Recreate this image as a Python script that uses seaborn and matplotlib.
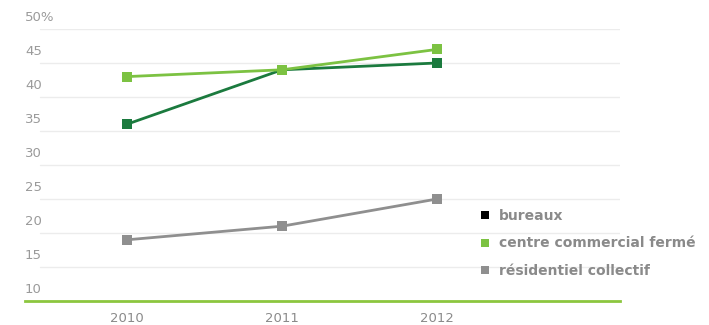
import numpy as np
import pandas as pd
import matplotlib.pyplot as plt
import matplotlib.transforms as mtransforms
from matplotlib.lines import Line2D
import seaborn as sns

years = [2010, 2011, 2012]
bureaux = [36, 44, 45]
centre_commercial = [43, 44, 47]
residentiel = [19, 21, 25]
series_names = ["bureaux", "centre commercial fermé", "résidentiel collectif"]
y_ticks = [10, 15, 20, 25, 30, 35, 40, 45, 50]
y_tick_labels = ["10", "15", "20", "25", "30", "35", "40", "45", "50%"]

line_colors = ["#1b7a3e", "#7cc242", "#8f8f8f"]
legend_colors = ["#000000", "#7cc242", "#8f8f8f"]

df = pd.DataFrame({
    "year": years * 3,
    "value": bureaux + centre_commercial + residentiel,
    "series": [s for s in series_names for _ in years],
})

sns.set_style("white")
plt.rcParams["font.family"] = ["DejaVu Sans"]

fig = plt.figure(figsize=(7.09, 3.25), dpi=100)
ax = fig.add_axes([25 / 709, 24 / 325, (620 - 25) / 709, (301 - 29) / 325])

sns.lineplot(
    data=df, x="year", y="value", hue="series", style="series",
    hue_order=series_names, palette=line_colors,
    markers=["s", "s", "s"], dashes=False, markersize=6.5,
    markeredgewidth=0, linewidth=2.0, legend=False, ax=ax,
)

ax.set_xlim(2010 - 102 / 155, 2012 + 183 / 155)
ax.set_ylim(10, 50)
ax.set_xticks(years)
ax.set_xticklabels([str(y) for y in years], color="#8a8a8a", fontsize=9.5)
ax.tick_params(axis="x", length=0, pad=8)
ax.set_yticks(y_ticks)
ax.set_yticklabels([])
ax.tick_params(axis="y", length=0)
ax.set_xlabel("")
ax.set_ylabel("")

for v in y_ticks[1:]:
    ax.axhline(v, xmin=15 / 595, xmax=1, color="#ececec", linewidth=1, zorder=0)

offset = mtransforms.ScaledTranslation(0, 5 / 100, fig.dpi_scale_trans)
trans = mtransforms.blended_transform_factory(ax.transAxes, ax.transData) + offset
for v, lab in zip(y_ticks, y_tick_labels):
    ax.text(0, v, lab, transform=trans, ha="left", va="bottom",
            color="#9a9a9a", fontsize=9.5)

for side in ["top", "right", "left"]:
    ax.spines[side].set_visible(False)
ax.spines["bottom"].set_color("#8cc63f")
ax.spines["bottom"].set_linewidth(2)

handles = [
    Line2D([], [], linestyle="none", marker="s", markersize=6,
           color=c, markeredgewidth=0)
    for c in legend_colors
]
leg = fig.legend(
    handles, series_names, loc="upper left",
    bbox_to_anchor=(467 / 709, 1 - 196 / 325), frameon=False,
    handlelength=0.8, handletextpad=0.6, labelspacing=1.0,
    prop={"size": 10, "weight": "bold"},
)
for t in leg.get_texts():
    t.set_color("#8a8a8a")

fig.savefig("out.png", dpi=100)
